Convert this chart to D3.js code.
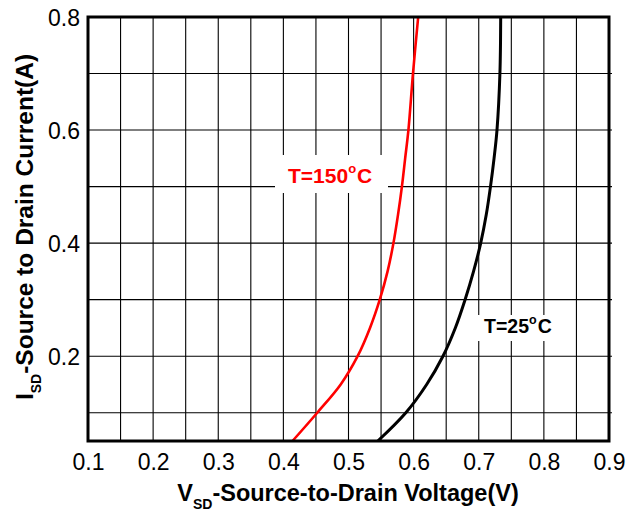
<!DOCTYPE html>
<html>
<head>
<meta charset="utf-8">
<script src="https://cdn.jsdelivr.net/npm/d3@7"></script>
<style>
  html, body { margin: 0; padding: 0; background: #fff; }
  svg { display: block; }
  text { font-family: "Liberation Sans", Arial, sans-serif; }
</style>
</head>
<body>
<svg id="chart" width="633" height="512"></svg>
<script>
// ---- data ----
const current = [0.05, 0.1, 0.15, 0.2, 0.25, 0.3, 0.35, 0.4, 0.45, 0.5, 0.55, 0.6, 0.7, 0.8];
const vsd150 = [0.414, 0.452, 0.488, 0.514, 0.533, 0.548, 0.560, 0.569, 0.576, 0.582, 0.587, 0.592, 0.599, 0.607];
const vsd25  = [0.545, 0.588, 0.620, 0.645, 0.664, 0.679, 0.692, 0.703, 0.7115, 0.718, 0.7235, 0.728, 0.7325, 0.7337];
const xTickValues = [0.1, 0.2, 0.3, 0.4, 0.5, 0.6, 0.7, 0.8, 0.9];
const xGridValues = [0.15, 0.2, 0.25, 0.3, 0.35, 0.4, 0.45, 0.5, 0.55, 0.6, 0.65, 0.7, 0.75, 0.8, 0.85];
const yTickValues = [0.2, 0.4, 0.6, 0.8];
const yGridValues = [0.1, 0.2, 0.3, 0.4, 0.5, 0.6, 0.7];
const seriesLabels = ["T=150", "T=25"];

(function () {
const svg = d3.select("#chart");
const pl = 88, pr = 609, pt = 17, pb = 441;
const x = d3.scaleLinear().domain([0.1, 0.9]).range([pl, pr]);
const y = d3.scaleLinear().domain([0.05, 0.8]).range([pb, pt]);

// grid
const grid = svg.append("g").attr("stroke", "#000").attr("stroke-width", 1.1);
grid.selectAll("line.vx").data(xGridValues).join("line")
  .attr("x1", d => x(d)).attr("x2", d => x(d)).attr("y1", pt).attr("y2", pb);
grid.selectAll("line.hy").data(yGridValues).join("line")
  .attr("x1", pl).attr("x2", pr + 3).attr("y1", d => y(d)).attr("y2", d => y(d));

// label background boxes (cover the grid)
svg.append("rect").attr("x", 275).attr("y", 155).attr("width", 113).attr("height", 38).attr("fill", "#fff");
svg.append("rect").attr("x", 471).attr("y", 315).attr("width", 89).attr("height", 26).attr("fill", "#fff");

// curves
const line = d3.line().curve(d3.curveCatmullRom.alpha(0.5));
svg.append("path")
  .attr("d", line(current.map((c, i) => [x(vsd150[i]), y(c)])))
  .attr("fill", "none").attr("stroke", "#ff0000").attr("stroke-width", 2.6);
svg.append("path")
  .attr("d", line(current.map((c, i) => [x(vsd25[i]), y(c)])))
  .attr("fill", "none").attr("stroke", "#000").attr("stroke-width", 3);

// frame
svg.append("rect").attr("x", pl).attr("y", pt).attr("width", pr - pl).attr("height", pb - pt)
  .attr("fill", "none").attr("stroke", "#000").attr("stroke-width", 3);

// axes tick labels
const xAxis = d3.axisBottom(x).tickValues(xTickValues).tickSize(0).tickPadding(0).tickFormat(d3.format(".1f"));
const gx = svg.append("g").attr("transform", `translate(0,${pb})`).call(xAxis);
gx.select(".domain").remove();
gx.selectAll("text").attr("y", 29).attr("dy", null).attr("font-size", 23)
  .attr("font-family", "'Liberation Sans', Arial, sans-serif").attr("fill", "#000");

const yAxis = d3.axisLeft(y).tickValues(yTickValues).tickSize(0).tickPadding(0).tickFormat(d3.format(".1f"));
const gy = svg.append("g").attr("transform", `translate(${pl},0)`).call(yAxis);
gy.select(".domain").remove();
gy.selectAll("text").attr("x", -8).attr("dy", "0.36em").attr("font-size", 23)
  .attr("font-family", "'Liberation Sans', Arial, sans-serif").attr("fill", "#000");

// axis titles
const xt = svg.append("text").attr("x", 348).attr("y", 501).attr("text-anchor", "middle")
  .attr("font-size", 23.5).attr("font-weight", "bold");
xt.append("tspan").text("V");
xt.append("tspan").attr("dy", 8).attr("font-size", 14).text("SD");
xt.append("tspan").attr("dy", -8).text("-Source-to-Drain Voltage(V)");

const yt = svg.append("text").attr("transform", `translate(33,${(pt + pb) / 2 - 2}) rotate(-90)`)
  .attr("text-anchor", "middle").attr("font-size", 24.5).attr("font-weight", "bold");
yt.append("tspan").text("I");
yt.append("tspan").attr("dy", 8).attr("font-size", 14).text("SD");
yt.append("tspan").attr("dy", -8).text("-Source to Drain Current(A)");

// series labels
const l1 = svg.append("text").attr("x", 288).attr("y", 183).attr("font-size", 21)
  .attr("font-weight", "bold").attr("fill", "#ff0000");
l1.append("tspan").text(seriesLabels[0]);
l1.append("tspan").attr("dy", -10).attr("font-size", 13).text("o");
l1.append("tspan").attr("dy", 10).attr("dx", 1).text("C");

const l2 = svg.append("text").attr("x", 484).attr("y", 333).attr("font-size", 19.5)
  .attr("font-weight", "bold").attr("fill", "#000");
l2.append("tspan").text(seriesLabels[1]);
l2.append("tspan").attr("dy", -9).attr("font-size", 12.5).text("o");
l2.append("tspan").attr("dy", 9).attr("dx", 1).text("C");
})();
</script>
</body>
</html>
